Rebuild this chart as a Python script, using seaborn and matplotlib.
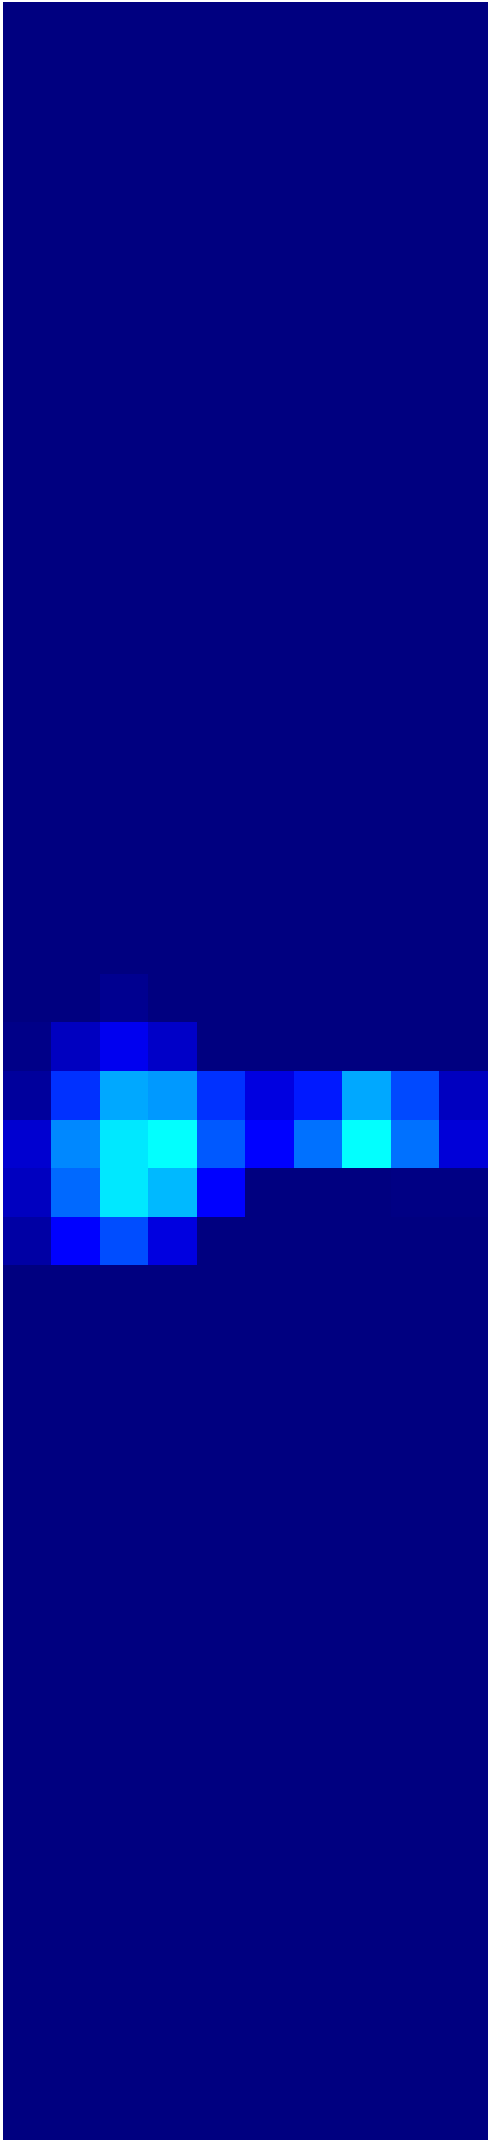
import numpy as np
import pandas as pd
import matplotlib
matplotlib.use("Agg")
import matplotlib.pyplot as plt
from matplotlib.colors import LinearSegmentedColormap
import seaborn as sns

n_rows = 44
n_cols = 10
columns = [f"c{i}" for i in range(n_cols)]

# Non-zero rows (row index -> values across the 10 columns); all other rows are zero
row_20 = [0.000, 0.000, 0.016, 0.000, 0.000, 0.000, 0.000, 0.000, 0.000, 0.000]
row_21 = [0.010, 0.063, 0.110, 0.071, 0.000, 0.000, 0.000, 0.000, 0.000, 0.000]
row_22 = [0.031, 0.172, 0.290, 0.274, 0.172, 0.094, 0.149, 0.290, 0.196, 0.063]
row_23 = [0.079, 0.258, 0.352, 0.375, 0.211, 0.125, 0.235, 0.375, 0.235, 0.087]
row_24 = [0.063, 0.227, 0.352, 0.305, 0.125, 0.000, 0.000, 0.000, 0.004, 0.004]
row_25 = [0.039, 0.125, 0.203, 0.094, 0.000, 0.000, 0.000, 0.000, 0.000, 0.000]

nonzero_rows = {20: row_20, 21: row_21, 22: row_22, 23: row_23, 24: row_24, 25: row_25}

data = np.zeros((n_rows, n_cols))
for r, vals in nonzero_rows.items():
    data[r] = vals
df = pd.DataFrame(data, columns=columns)

# classic (MATLAB-style) jet
jet_classic = LinearSegmentedColormap.from_list(
    "jet_classic",
    [(0.0, "#000080"), (0.125, "#0000ff"), (0.375, "#00ffff"),
     (0.625, "#ffff00"), (0.875, "#ff0000"), (1.0, "#800000")])

fig = plt.figure(figsize=(4.91, 21.43), dpi=100)
ax = fig.add_axes([2.5 / 491, 3 / 2143, 485.5 / 491, 2138 / 2143])
sns.heatmap(df, ax=ax, cmap=jet_classic, vmin=0, vmax=1, cbar=False,
            xticklabels=False, yticklabels=False, linewidths=0)
ax.axis("off")
fig.savefig("out.png", dpi=100)
